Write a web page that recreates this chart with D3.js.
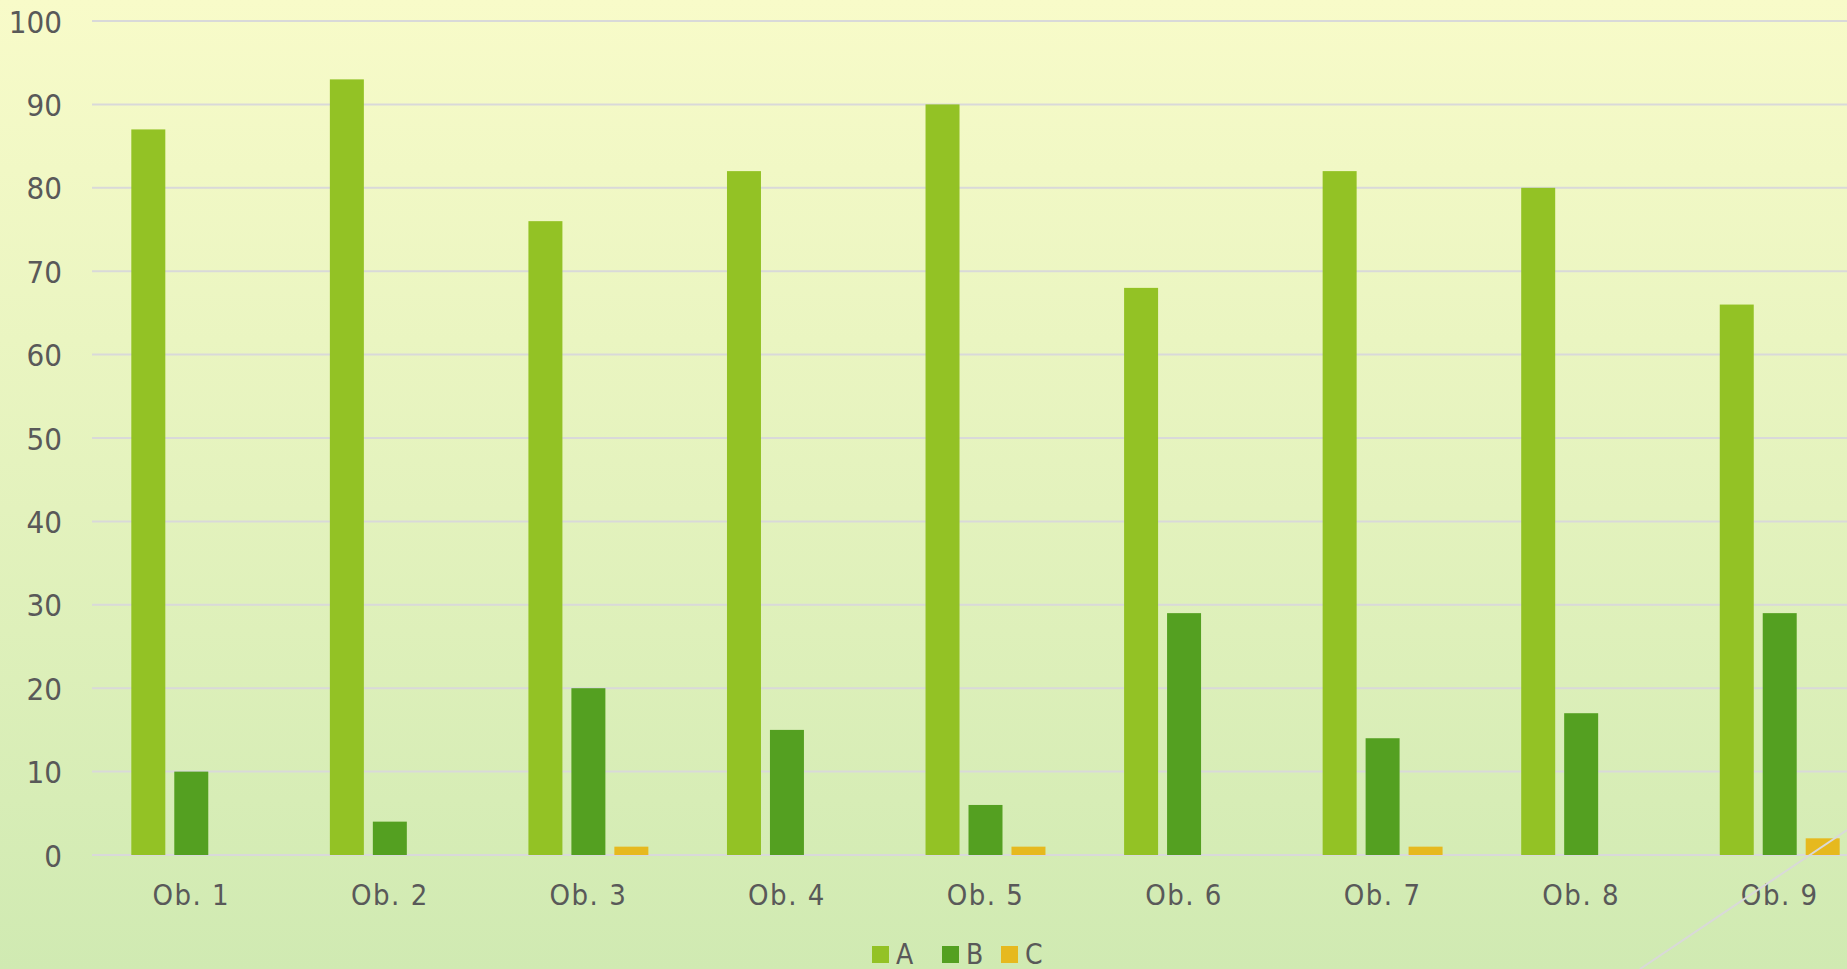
<html>
<head>
<meta charset="utf-8"/>
<script src="https://cdn.jsdelivr.net/npm/d3@7"></script>
<style>
  body { margin: 0; overflow: hidden; }
  text { font-family: "DejaVu Sans Condensed", "DejaVu Sans", sans-serif; fill: #595959; }
</style>
</head>
<body>
<div id="chart"></div>
<script>
var categories = ["Ob. 1", "Ob. 2", "Ob. 3", "Ob. 4", "Ob. 5", "Ob. 6", "Ob. 7", "Ob. 8", "Ob. 9"];
var seriesNames = ["A", "B", "C"];
var valuesA = [87, 93, 76, 82, 90, 68, 82, 80, 66];
var valuesB = [10, 4, 20, 15, 6, 29, 14, 17, 29];
var valuesC = [0, 0, 1, 0, 1, 0, 1, 0, 2];
var yTicks = [0, 10, 20, 30, 40, 50, 60, 70, 80, 90, 100];
var colors = ["#93c225", "#54a021", "#e6b91e"];

var w = 1847, h = 969;
var plotLeft = 92, plotTop = 21, plotBottom = 855;

var svg = d3.select("#chart").append("svg")
    .attr("width", w).attr("height", h);

// background gradient
var grad = svg.append("defs").append("linearGradient")
    .attr("id", "bg").attr("x1", 0).attr("y1", 0).attr("x2", 0).attr("y2", 1);
grad.append("stop").attr("offset", "0%").attr("stop-color", "#f8fbc9");
grad.append("stop").attr("offset", "100%").attr("stop-color", "#d0eab2");
svg.append("rect").attr("width", w).attr("height", h).attr("fill", "url(#bg)");

var yScale = d3.scaleLinear().domain([0, 100]).range([plotBottom, plotTop]);

var x0 = d3.scaleBand().domain(categories)
    .range([plotLeft, plotLeft + 1787])
    .paddingInner(0.396).paddingOuter(0.198);
var x1 = d3.scaleBand().domain(seriesNames)
    .range([0, x0.bandwidth()])
    .paddingInner(0.209).paddingOuter(0);

// gridlines
svg.append("g").selectAll("line")
    .data(yTicks).enter().append("line")
    .attr("x1", plotLeft).attr("x2", w)
    .attr("y1", function(d) { return yScale(d); })
    .attr("y2", function(d) { return yScale(d); })
    .attr("stroke", "#d9d9d9").attr("stroke-width", 2);

// y labels
var yAxis = d3.axisLeft(yScale).tickValues(yTicks).tickSize(0).tickPadding(0);
var gy = svg.append("g").attr("transform", "translate(62,0)").call(yAxis);
gy.select(".domain").remove();
gy.selectAll("text").style("font-size", "31px").attr("fill", "#595959")
    .attr("font-family", null).attr("dy", "0.36em");

// bars
var table = categories.map(function(c, i) {
    return [valuesA[i], valuesB[i], valuesC[i]].map(function(v, j) {
        return { cat: c, s: seriesNames[j], v: v, color: colors[j] };
    });
});
svg.append("g").selectAll("g")
    .data(table).enter().append("g")
    .attr("transform", function(d) { return "translate(" + x0(d[0].cat) + ",0)"; })
    .selectAll("rect")
    .data(function(d) { return d.filter(function(e) { return e.v > 0; }); })
    .enter().append("rect")
    .attr("x", function(d) { return x1(d.s); })
    .attr("width", x1.bandwidth())
    .attr("y", function(d) { return yScale(d.v); })
    .attr("height", function(d) { return plotBottom - yScale(d.v); })
    .attr("fill", function(d) { return d.color; });

// x labels
var xAxis = d3.axisBottom(x0).tickSize(0).tickPadding(0);
var gx = svg.append("g").attr("transform", "translate(0," + plotBottom + ")").call(xAxis);
gx.select(".domain").remove();
gx.selectAll("text").style("font-size", "29px").style("letter-spacing", "1.5px")
    .attr("fill", "#595959")
    .attr("font-family", null).attr("dy", null).attr("y", 50);

// stray connector line at bottom right
svg.append("line")
    .attr("x1", 1640).attr("y1", 969).attr("x2", 1847).attr("y2", 830)
    .attr("stroke", "#d9d9d9").attr("stroke-width", 2);

// legend
var legendX = [872, 942, 1001];
var lg = svg.append("g").selectAll("g")
    .data(seriesNames).enter().append("g")
    .attr("transform", function(d, i) { return "translate(" + legendX[i] + ",946)"; });
lg.append("rect").attr("width", 17).attr("height", 17)
    .attr("fill", function(d, i) { return colors[i]; });
lg.append("text").attr("x", 24).attr("y", 18)
    .style("font-size", "28px")
    .text(function(d) { return d; });
</script>
</body>
</html>
